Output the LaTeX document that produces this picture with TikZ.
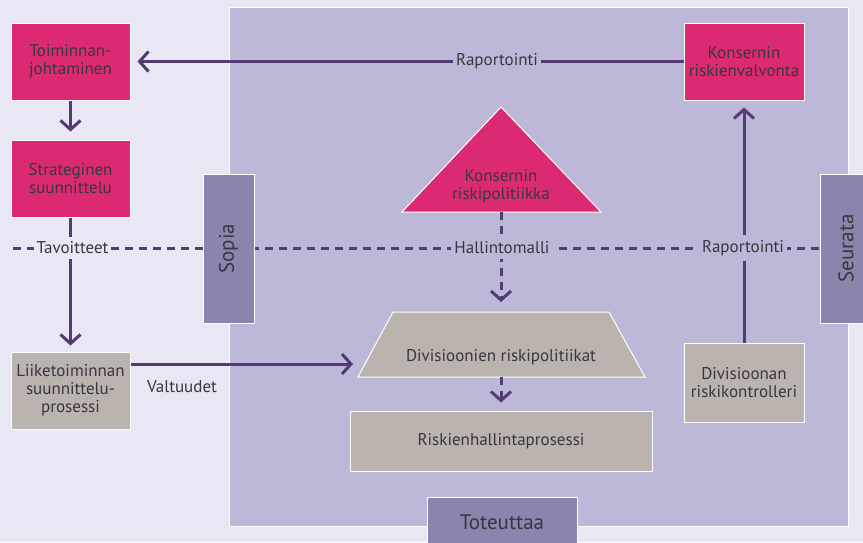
\documentclass[tikz,border=0pt]{standalone}
\usepackage{fontspec}
\setmainfont{PT Sans}
\usetikzlibrary{arrows.meta}
\definecolor{pagebg}{HTML}{E9E7F3}
\definecolor{bigbg}{HTML}{BDB8D8}
\definecolor{mag}{HTML}{DC2A72}
\definecolor{taupe}{HTML}{BBB3AE}
\definecolor{side}{HTML}{8B84AD}
\definecolor{ln}{HTML}{553A74}
\definecolor{txt}{HTML}{3A3640}
\begin{document}
\begin{tikzpicture}[
  x=1pt, y=-1pt,
  every node/.style={align=center, text=txt, inner sep=0pt, font=\fontsize{17}{18}\selectfont},
  box/.style={draw=white, line width=1pt},
  magbox/.style={box, fill=mag},
  greybox/.style={box, fill=taupe},
  sidebox/.style={box, fill=side, font=\fontsize{21}{23}\selectfont},
  lbl/.style={fill=#1, inner xsep=3pt, inner ysep=5pt},
  plain/.style={draw=ln, line width=3pt},
  flow/.style={plain, -{Straight Barb[length=9pt,width=20pt]}},
  dashes/.style={dash pattern=on 7.5pt off 6.5pt}
]
\clip (0,0) rectangle (863,542);
\fill[pagebg] (0,0) rectangle (863,542);
\node[box, fill=bigbg, minimum width=619, minimum height=519] (frame) at (538.5,266.5) {};

% dashed line behind the side boxes
\coordinate (dashstart) at (13,248.5);
\coordinate (dashend) at (846,248.5);
\draw[plain, dashes] (dashstart) -- (dashend);

\node[sidebox, rotate=90, minimum width=149, minimum height=51] (sopia) at (228.5,248.5) {Sopia};
\node[sidebox, rotate=90, minimum width=149, minimum height=52] (seurata) at (846,248.5) {Seurata};
\node[sidebox, minimum width=150, minimum height=51] (toteuttaa) at (502,522.5) {Toteuttaa};

\node[magbox, minimum width=119, minimum height=77] (toim) at (70.5,61.5) {Toiminnan-\\johtaminen};
\node[magbox, minimum width=119, minimum height=77] (strat) at (70.5,178.5) {Strateginen\\suunnittelu};
\node[greybox, minimum width=119, minimum height=77] (liike) at (70.5,390.5) {Liiketoiminnan\\suunnittelu-\\prosessi};
\node[magbox, minimum width=120, minimum height=77] (konsval) at (744,61.5) {Konsernin\\riskienvalvonta};
\node[greybox, minimum width=120, minimum height=79] (divkontr) at (744,382.5) {Divisioonan\\riskikontrolleri};
\node[greybox, minimum width=302, minimum height=60] (prosessi) at (501,441) {Riskienhallintaprosessi};

% triangle and trapezoid
\filldraw[fill=mag, draw=white, line width=1pt] (501,107) -- (601,212) -- (402,212) -- cycle;
\node (konspol) at (501,186) {Konsernin\\riskipolitiikka};
\coordinate (tribase) at (501,212);
\filldraw[fill=taupe, draw=white, line width=1pt] (393,312) -- (609,312) -- (645,377) -- (358,377) -- cycle;
\node (divpol) at (501,357) {Divisioonien riskipolitiikat};
\coordinate (divpoltop) at (501,312);
\coordinate (divpolbot) at (501,377);
\coordinate (divpolleft) at (365,364);

\draw[flow, shorten >=8pt] (toim.south) -- (strat.north);
\draw[flow, shorten >=6pt] (strat.south) -- (liike.north);
\draw[flow, shorten >=7pt] (konsval.west) -- (toim.east);
\draw[flow, shorten >=7pt] (divkontr.north) -- (konsval.south);
\draw[flow, shorten >=12pt] (liike.north east |- divpolleft) -- (divpolleft);
\draw[flow, dashes, shorten >=10pt] (tribase) -- (divpoltop);
\draw[flow, dashes, shorten >=8pt] (divpolbot) -- (prosessi.north);

\node[lbl=bigbg] (rap1) at (497,61) {Raportointi};
\node[lbl=pagebg] (tavoitteet) at (72.5,248) {Tavoitteet};
\node[lbl=bigbg] (hallinto) at (502,248) {Hallintomalli};
\node[lbl=bigbg] (rap2) at (743,248) {Raportointi};
\node (valtuudet) at (182,387) {Valtuudet};
\end{tikzpicture}
\end{document}
